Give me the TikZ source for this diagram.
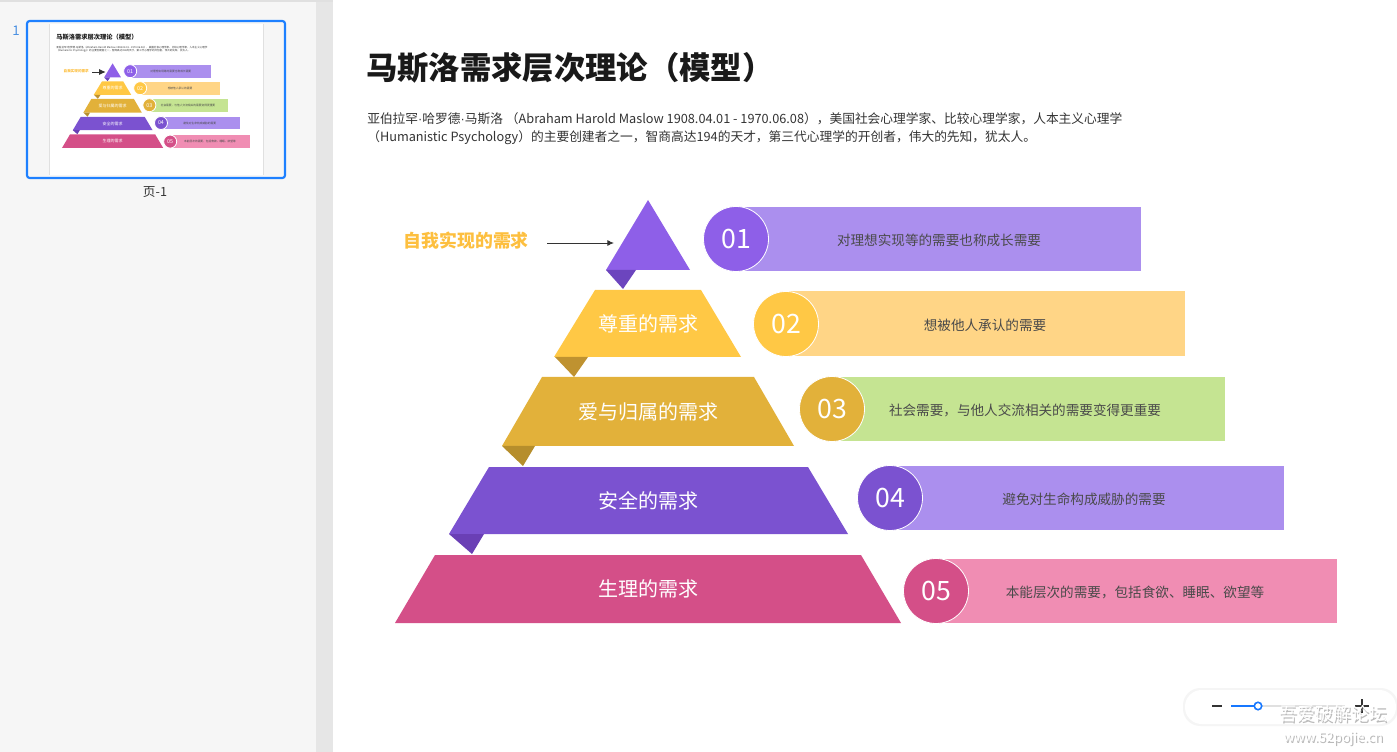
\documentclass[tikz,border=0pt]{standalone}
\usepackage{fontspec}
\setmainfont{Noto Sans CJK SC}
\newfontfamily\latinfont{Liberation Sans}
\usetikzlibrary{arrows.meta}
\definecolor{panelbg}{HTML}{F6F6F6}
\definecolor{stripgray}{HTML}{E6E6E6}
\definecolor{thumbblue}{HTML}{1E80FF}
\definecolor{numblue}{HTML}{4A90E2}
\definecolor{txtdark}{HTML}{333333}
\definecolor{bandtxtc}{HTML}{4A4A4A}
\definecolor{selfc}{HTML}{FDBF3F}
\definecolor{cA}{HTML}{8E5FE8}
\definecolor{cAd}{HTML}{6C45BE}
\definecolor{bA}{HTML}{AB8FEE}
\definecolor{cB}{HTML}{FFC845}
\definecolor{cBd}{HTML}{BF9230}
\definecolor{bB}{HTML}{FFD586}
\definecolor{cC}{HTML}{E2B13A}
\definecolor{cCd}{HTML}{B68E2C}
\definecolor{bC}{HTML}{C5E492}
\definecolor{cD}{HTML}{7B52D0}
\definecolor{cDd}{HTML}{6A3FB5}
\definecolor{bD}{HTML}{AB8FEE}
\definecolor{cE}{HTML}{D44F88}
\definecolor{bE}{HTML}{F08DB3}
\definecolor{ctrlblue}{HTML}{1677FF}

\newcommand{\mdot}{{\latinfont ·}}
\newcommand{\slidecontent}{%
  % title and introduction
  \node[titletxt, anchor=west] (title) at (366,68) {马斯洛需求层次理论（模型）};
  \node[paratxt, anchor=west] (para1) at (367,119) {亚伯拉罕\mdot 哈罗德\mdot 马斯洛 （Abraham Harold Maslow 1908.04.01 - 1970.06.08），美国社会心理学家、比较心理学家，人本主义心理学};
  \node[paratxt, anchor=west] (para2) at (367,138) {（Humanistic Psychology）的主要创建者之一，智商高达194的天才，第三代心理学的开创者，伟大的先知，犹太人。};
  % bands (behind circles)
  \fill[bA] (736,207) rectangle (1141,271);
  \fill[bB] (786,291) rectangle (1185,356);
  \fill[bC] (832,377) rectangle (1225,441);
  \fill[bD] (890,466) rectangle (1284,530);
  \fill[bE] (936,559) rectangle (1337,623);
  % pyramid
  \fill[cA] (648,200) -- (690,270) -- (606,270) -- cycle;
  \fill[cAd] (606,270) -- (636,270) -- (623,289) -- cycle;
  \fill[cB] (595,290) -- (701,290) -- (741,357) -- (554,357) -- cycle;
  \fill[cBd] (555,357) -- (588,357) -- (574,377) -- cycle;
  \fill[cC] (542,377) -- (754,377) -- (794,446) -- (502,446) -- cycle;
  \fill[cCd] (502,446) -- (535,446) -- (523,466) -- cycle;
  \fill[cD] (489,467) -- (808,467) -- (848,534) -- (449,534) -- cycle;
  \fill[cDd] (449,534) -- (484,534) -- (472,554) -- cycle;
  \fill[cE] (435,555) -- (861,555) -- (901,623) -- (395,623) -- cycle;
  \node[tiertxt] (tier2) at (648,324) {尊重的需求};
  \node[tiertxt] (tier3) at (648,412) {爱与归属的需求};
  \node[tiertxt] (tier4) at (648,501) {安全的需求};
  \node[tiertxt] (tier5) at (648,589) {生理的需求};
  % self-actualisation label and arrow
  \node[selftxt, anchor=east] (selfL) at (529,241) {自我实现的需求};
  \coordinate (arrS) at (547,243);
  \coordinate (arrE) at (614,243);
  \draw[ptr] (arrS) -- (arrE);
  % number circles
  \node[numc, fill=cA] (n1) at (736,239) {01};
  \node[numc, fill=cB] (n2) at (786,324) {02};
  \node[numc, fill=cC] (n3) at (832,409) {03};
  \node[numc, fill=cD] (n4) at (890,498) {04};
  \node[numc, fill=cE] (n5) at (936,591) {05};
  % band texts
  \node[bandtxt] (d1) at (939,240) {对理想实现等的需要也称成长需要};
  \node[bandtxt] (d2) at (985,325) {想被他人承认的需要};
  \node[bandtxt] (d3) at (1025,410) {社会需要，与他人交流相关的需要变得更重要};
  \node[bandtxt] (d4) at (1084,499) {避免对生命构成威胁的需要};
  \node[bandtxt] (d5) at (1135,592) {本能层次的需要，包括食欲、睡眠、欲望等};
}

\begin{document}
\begin{tikzpicture}[x=0.75pt, y=-0.75pt,
  titletxt/.style={inner sep=0pt, font=\fontsize{23.5}{26}\selectfont\bfseries, text=black!90},
  paratxt/.style={inner sep=0pt, font=\fontsize{9.55}{12}\selectfont, text=txtdark},
  tiertxt/.style={inner sep=0pt, font=\fontsize{15}{18}\selectfont, text=white},
  selftxt/.style={inner sep=0pt, font=\fontsize{13.4}{16}\selectfont\bfseries, text=selfc},
  bandtxt/.style={inner sep=0pt, font=\fontsize{10.2}{12}\selectfont, text=bandtxtc},
  numc/.style={circle, draw=white, line width=0.6pt, minimum size=48.75pt, inner sep=0pt,
               text=white, font=\fontsize{20}{22}\selectfont},
  ptr/.style={draw=txtdark, line width=0.7pt, -{Latex[length=5pt,width=4.5pt]}},
  wmtxt/.style={inner sep=0pt, text=white},
  wmshadow/.style={inner sep=0pt, text=black!45, opacity=0.6}
]
\useasboundingbox (0,0) rectangle (1397,752);
% left panel and page
\fill[panelbg] (0,0) rectangle (316,752);
\fill[stripgray] (316,0) rectangle (333,752);
\fill[white] (333,0) rectangle (1397,752);
\draw[black!12, line width=1pt] (0,1) -- (333,1);

% thumbnail
\node[inner sep=0pt, text=numblue, font=\fontsize{10}{12}\selectfont] (pgnum) at (16,31) {1};
\fill[white] (49,24) rectangle (263,175);
\draw[black!12, line width=0.5pt] (49,24) -- (49,175) (263,24) -- (263,175);
\begin{scope}
  \clip (49,24) rectangle (263,175);
  \begin{scope}[shift={(-17,23.4)}, scale=0.2, transform shape, name prefix=th-]
    \slidecontent
  \end{scope}
\end{scope}
\draw[thumbblue, line width=1.6pt, rounded corners=2pt] (27,21) rectangle (285,178);
\node[inner sep=0pt, text=txtdark, font=\fontsize{9.5}{11}\selectfont] (pglabel) at (155,192) {页-1};

% main slide
\slidecontent

% zoom control
\fill[black!4, rounded corners=13pt] (1183,688) rectangle (1398,726);
\fill[white, rounded corners=12.5pt] (1185,690) rectangle (1396,724);
\coordinate (minA) at (1212,706);
\coordinate (minB) at (1222,706);
\draw[txtdark, line width=1.3pt] (minA) -- (minB);
\coordinate (sldA) at (1231,706);
\coordinate (sldK) at (1258,706);
\coordinate (sldB) at (1345,706);
\draw[black!12, line width=1.3pt] (sldK) -- (sldB);
\draw[ctrlblue, line width=1.3pt] (sldA) -- (sldK);
\draw[ctrlblue, fill=white, line width=1.2pt] (sldK) circle (2.8pt);
\coordinate (plc) at (1362,706);
\draw[txtdark, line width=1pt] ([xshift=-5pt]plc) -- ([xshift=5pt]plc) ([yshift=-5pt]plc) -- ([yshift=5pt]plc);

% watermark
\node[wmshadow, font=\fontsize{13.5}{15}\selectfont] (wm1s) at (1334.5,715.5) {吾爱破解论坛};
\node[wmtxt, font=\fontsize{13.5}{15}\selectfont] (wm1) at (1333,714) {吾爱破解论坛};
\node[wmshadow, font=\fontsize{10}{12}\selectfont] (wm2s) at (1334.5,739.5) {www.52pojie.cn};
\node[wmtxt, font=\fontsize{10}{12}\selectfont] (wm2) at (1333,738) {www.52pojie.cn};
\end{tikzpicture}
\end{document}
